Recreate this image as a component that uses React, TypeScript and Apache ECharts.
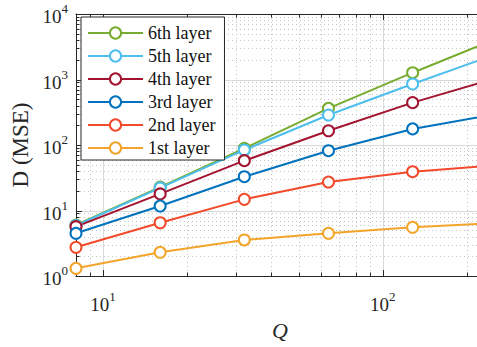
import React, { useEffect, useRef } from 'react';
import * as echarts from 'echarts';

const qValues = [8, 16, 32, 64, 128, 256];
const layerNames = ['6th layer', '5th layer', '4th layer', '3rd layer', '2nd layer', '1st layer'];
const layer6 = [6.0, 22.8, 89, 363, 1270, 4200];
const layer5 = [5.9, 22.1, 84, 287, 854, 2450];
const layer4 = [5.66, 17.9, 57.6, 165, 443, 1060];
const layer3 = [4.49, 11.7, 32.8, 81.8, 176, 298];
const layer2 = [2.74, 6.5, 14.8, 27.2, 39.1, 49.3];
const layer1 = [1.31, 2.3, 3.55, 4.49, 5.54, 6.46];
const layerValues = [layer6, layer5, layer4, layer3, layer2, layer1];
const layerColors = ['#77AC30', '#4DBEEE', '#A2142F', '#0072BD', '#F24A2A', '#F2A52A'];

const xMajorTicks = [10, 100];
const xMinorTicks = [9, 20, 30, 40, 50, 60, 70, 80, 90, 200];
const yMajorTicks = [10, 100, 1000];
const yMinorTicks = [
  2, 3, 4, 5, 6, 7, 8, 9,
  20, 30, 40, 50, 60, 70, 80, 90,
  200, 300, 400, 500, 600, 700, 800, 900,
  2000, 3000, 4000, 5000, 6000, 7000, 8000, 9000,
];

const FONT = 'Liberation Serif';
const INK = '#262626';

function powerLabel(v: number) {
  const e = Math.log10(v);
  const r = Math.round(e);
  if (Math.abs(e - r) > 1e-6) return '';
  return `{b|10}{s|${r}}`;
}

const rich = {
  b: { fontFamily: FONT, fontSize: 19, color: INK, lineHeight: 24, verticalAlign: 'bottom' },
  s: { fontFamily: FONT, fontSize: 13, color: INK, lineHeight: 14, verticalAlign: 'top' },
};

function gridSeries(values: number[], dir: 'x' | 'y', major: boolean) {
  return {
    type: 'custom',
    silent: true,
    z: 1,
    xAxisIndex: 0,
    yAxisIndex: 0,
    data: values.map((v) => (dir === 'x' ? [v, 10] : [10, v])),
    encode: { x: 0, y: 1 },
    renderItem: (params: any, api: any) => {
      const cs = params.coordSys;
      const p = api.coord([api.value(0), api.value(1)]);
      const tick = major ? 6 : 3.5;
      const gridStyle = major
        ? { stroke: '#d9d9d9', lineWidth: 1, fill: 'none' }
        : { stroke: '#c6c6c6', lineWidth: 1, lineDash: [1, 3], fill: 'none' };
      const tickStyle = { stroke: INK, lineWidth: 1, fill: 'none' };
      if (dir === 'x') {
        const x = Math.round(p[0]) + 0.5;
        const top = cs.y;
        const bottom = cs.y + cs.height;
        return {
          type: 'group',
          children: [
            { type: 'line', shape: { x1: x, y1: top, x2: x, y2: bottom }, style: gridStyle },
            { type: 'line', shape: { x1: x, y1: bottom, x2: x, y2: bottom - tick }, style: tickStyle },
            { type: 'line', shape: { x1: x, y1: top, x2: x, y2: top + tick }, style: tickStyle },
          ],
        };
      }
      const y = Math.round(p[1]) + 0.5;
      const left = cs.x;
      const right = cs.x + cs.width;
      return {
        type: 'group',
        children: [
          { type: 'line', shape: { x1: left, y1: y, x2: right, y2: y }, style: gridStyle },
          { type: 'line', shape: { x1: left, y1: y, x2: left + tick, y2: y }, style: tickStyle },
        ],
      };
    },
  };
}

export default function App() {
  const ref = useRef<HTMLDivElement>(null);
  useEffect(() => {
    if (!ref.current) return;
    const chart = echarts.init(ref.current, undefined, { renderer: 'svg' });
    const lineSeries = layerNames.map((name, i) => ({
      type: 'line',
      name,
      data: qValues.map((q, j) => [q, layerValues[i][j]]),
      xAxisIndex: 0,
      yAxisIndex: 0,
      symbol: 'emptyCircle',
      symbolSize: 11,
      showAllSymbol: true,
      clip: true,
      z: 3,
      color: layerColors[i],
      itemStyle: { color: layerColors[i], borderWidth: 2 },
      lineStyle: { color: layerColors[i], width: 2 },
      emphasis: { disabled: true },
    }));
    chart.setOption({
      animation: false,
      backgroundColor: '#fff',
      grid: { left: 76, top: 14, right: 0, bottom: 71, containLabel: false },
      legend: {
        data: layerNames,
        orient: 'vertical',
        left: 81,
        top: 17,
        itemWidth: 55,
        itemHeight: 14,
        itemGap: 3,
        padding: [6, 9, 2, 6],
        backgroundColor: '#fff',
        borderColor: INK,
        borderWidth: 1,
        textStyle: { fontFamily: FONT, fontSize: 18, color: '#111', lineHeight: 20 },
        z: 10,
        selectedMode: false,
      },
      xAxis: [
        {
          type: 'log',
          logBase: 10,
          min: 8,
          max: 217.5,
          position: 'bottom',
          axisLine: { show: true, lineStyle: { color: INK, width: 1 } },
          axisTick: { show: false },
          splitLine: { show: false },
          minorTick: { show: false },
          axisLabel: { formatter: powerLabel, rich, margin: 14, showMinLabel: false, showMaxLabel: false },
          name: 'Q',
          nameLocation: 'middle',
          nameGap: 43,
          nameTextStyle: { fontFamily: FONT, fontSize: 22, fontStyle: 'italic', color: INK, padding: [0, 0, 0, 7] },
        },
        {
          type: 'log',
          logBase: 10,
          min: 8,
          max: 217.5,
          position: 'top',
          axisLine: { show: true, onZero: false, lineStyle: { color: INK, width: 1 } },
          axisTick: { show: false },
          splitLine: { show: false },
          axisLabel: { show: false },
        },
      ],
      yAxis: {
        type: 'log',
        logBase: 10,
        min: 1,
        max: 10000,
        axisLine: { show: true, lineStyle: { color: INK, width: 1 } },
        axisTick: { show: false },
        splitLine: { show: false },
        axisLabel: { formatter: powerLabel, rich, margin: 8 },
        name: 'D (MSE)',
        nameLocation: 'middle',
        nameGap: 43,
        nameTextStyle: { fontFamily: FONT, fontSize: 23, color: INK },
      },
      series: [
        gridSeries(yMinorTicks, 'y', false),
        gridSeries(xMinorTicks, 'x', false),
        gridSeries(yMajorTicks, 'y', true),
        gridSeries(xMajorTicks, 'x', true),
        ...lineSeries,
      ],
    });
    return () => chart.dispose();
  }, []);
  return (
    <div
      ref={ref}
      style={{ width: 477, height: 347, position: 'fixed', left: 0, top: 0, background: '#fff' }}
    />
  );
}
